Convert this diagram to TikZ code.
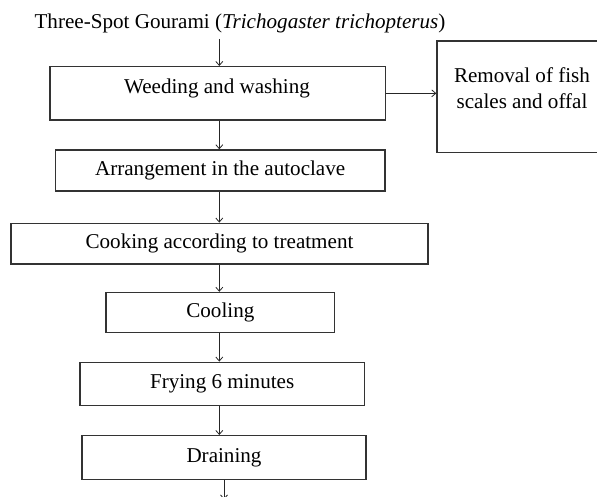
\documentclass[tikz,border=0pt]{standalone}
\usepackage{fontspec}
\setmainfont{Liberation Serif}
\usetikzlibrary{arrows.meta,calc}
\begin{document}
\begin{tikzpicture}[x=1pt,y=-1pt,
  box/.style={draw=black!80,line width=1.4pt,rectangle,inner sep=0pt,
    font=\fontsize{21.1}{26}\selectfont},
  txt/.style={inner sep=0pt,font=\fontsize{21.1}{26}\selectfont,align=center},
  arr/.style={draw=black!85,line width=0.8pt,-{Straight Barb[length=4pt,width=7pt]}}]
\useasboundingbox (0,0) rectangle (597,497);
\clip (0,0) rectangle (597,497);
\coordinate (ax) at (219.3,0);
\node[txt] (title) at (240,23) {Three-Spot Gourami (\textit{Trichogaster trichopterus})};
\node[box,minimum width=335.5,minimum height=53.3] (b1) at (217.75,93.35) {};
\node[txt] (t1) at (217,88.5) {Weeding and washing};
\node[box,minimum width=183,minimum height=111.7] (rb) at (528.5,96.85) {};
\node[txt] (trb) at (522,88) {Removal of fish\\scales and offal};
\node[box,minimum width=329.7,minimum height=41] (b2) at (220.15,170.5) {Arrangement in the autoclave};
\node[box,minimum width=417,minimum height=40.7] (b3) at (219.5,243.65) {Cooking according to treatment};
\node[box,minimum width=228.7,minimum height=40.2] (b4) at (220.35,312.6) {Cooling};
\node[box,minimum width=284.3,minimum height=43.4] (b5) at (222.15,384) {Frying 6 minutes};
\node[box,minimum width=284,minimum height=43.6] (b6) at (224,457.5) {Draining};
\coordinate (bend) at (224,499.5);
\draw[arr] ([yshift=-6pt]title.south -| ax) -- (b1.north -| ax);
\draw[arr] (b1.east) -- (b1.east -| rb.west);
\draw[arr] (b1.south -| ax) -- (b2.north -| ax);
\draw[arr] (b2.south -| ax) -- (b3.north -| ax);
\draw[arr] (b3.south -| ax) -- (b4.north -| ax);
\draw[arr] (b4.south -| ax) -- (b5.north -| ax);
\draw[arr] (b5.south -| ax) -- (b6.north -| ax);
\draw[arr] (b6.south) -- (bend);
\end{tikzpicture}
\end{document}
